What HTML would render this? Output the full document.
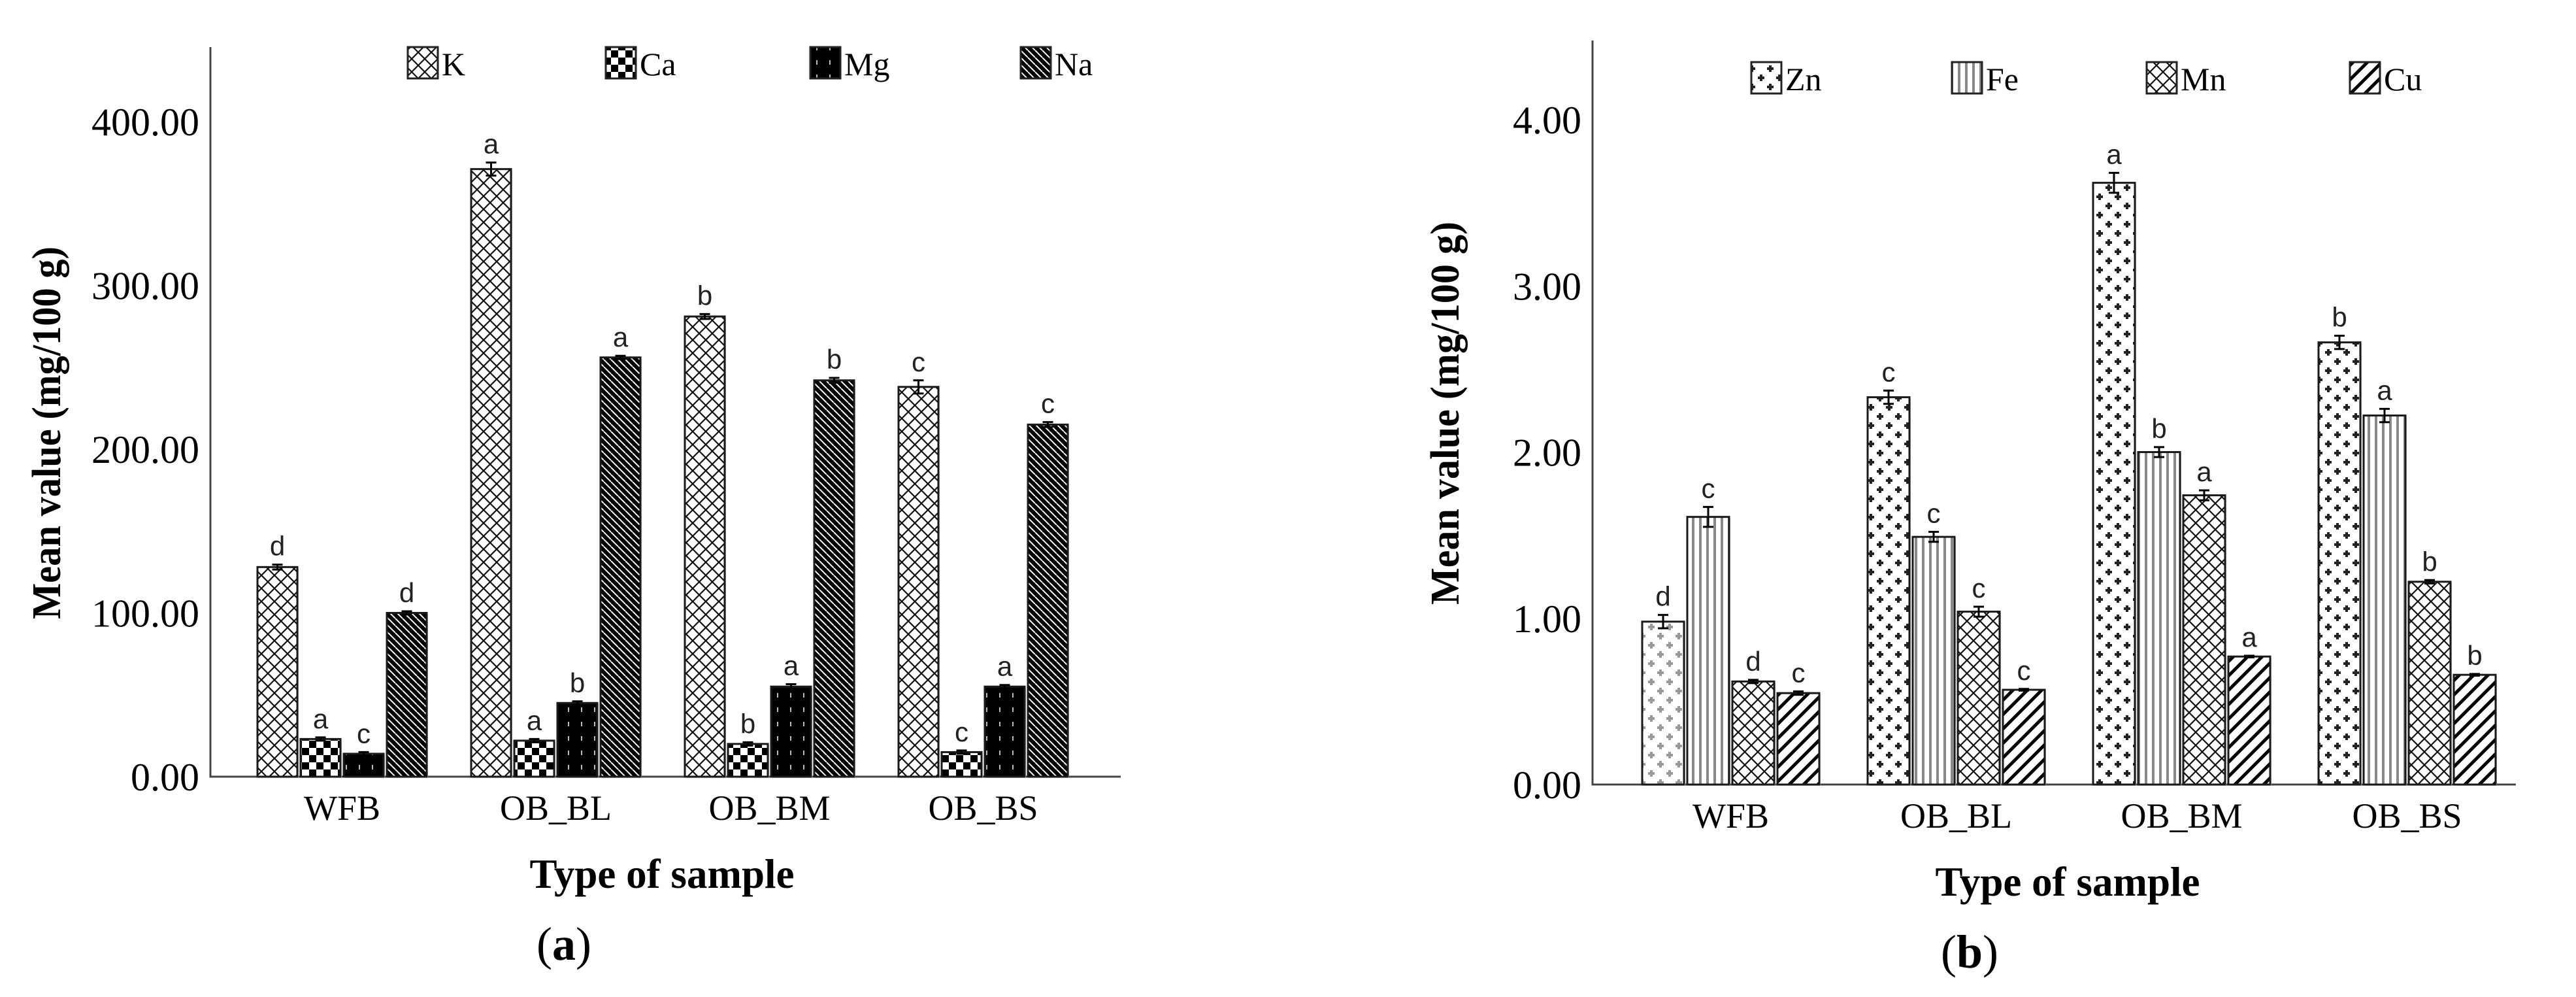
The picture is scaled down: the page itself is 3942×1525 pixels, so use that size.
<!DOCTYPE html>
<html><head><meta charset="utf-8">
<style>
html,body{margin:0;padding:0;background:#fff;}
svg{display:block;}
</style></head>
<body>
<svg id="fig" width="3942" height="1525" viewBox="0 0 3942 1525" xmlns="http://www.w3.org/2000/svg">
<defs>
  <pattern id="pK" width="20" height="20" patternUnits="userSpaceOnUse">
    <rect width="20" height="20" fill="#fff"/>
    <path d="M0,0L20,20M20,0L0,20" stroke="#111" stroke-width="2.2"/>
  </pattern>
  <pattern id="pCa" width="22" height="22" patternUnits="userSpaceOnUse">
    <rect width="22" height="22" fill="#fff"/>
    <rect width="11" height="11" fill="#000"/><rect x="11" y="11" width="11" height="11" fill="#000"/>
  </pattern>
  <pattern id="pMg" width="20" height="22" patternUnits="userSpaceOnUse">
    <rect width="20" height="22" fill="#000"/>
    <rect x="9" y="4" width="2" height="7" fill="#bbb"/>
  </pattern>
  <pattern id="pNa" width="11" height="11" patternUnits="userSpaceOnUse">
    <rect width="11" height="11" fill="#000"/>
    <path d="M0,0L11,11M-11,0L0,11M11,0L22,11" stroke="#fff" stroke-width="2"/>
  </pattern>
  <pattern id="pZn" width="28" height="28" patternUnits="userSpaceOnUse">
    <rect width="28" height="28" fill="#fff"/>
    <path d="M7,2v10M2,7h10M21,16v10M16,21h10" stroke="#222" stroke-width="4"/>
  </pattern>
  <pattern id="pZnL" width="28" height="28" patternUnits="userSpaceOnUse">
    <rect width="28" height="28" fill="#fff"/>
    <path d="M7,2v10M2,7h10M21,16v10M16,21h10" stroke="#999" stroke-width="4"/>
  </pattern>
  <pattern id="pFe" width="11" height="11" patternUnits="userSpaceOnUse">
    <rect width="11" height="11" fill="#fff"/>
    <rect x="4" width="4" height="11" fill="#888"/>
  </pattern>
  <pattern id="pCu" width="22" height="22" patternUnits="userSpaceOnUse">
    <rect width="22" height="22" fill="#fff"/>
    <path d="M0,22L22,0M-11,11L11,-11M11,33L33,11" stroke="#000" stroke-width="5"/>
  </pattern>
</defs>
<g id="chartA"></g>
<g id="chartB"></g>
</svg>
<script>
const categories = ["WFB","OB_BL","OB_BM","OB_BS"];
const seriesA = ["K","Ca","Mg","Na"];
const valK  = [128, 371, 281, 238];
const valCa = [23, 22, 20, 15];
const valMg = [14, 45, 55, 55];
const valNa = [100, 256, 242, 215];
const errK  = [1.5, 4, 1.5, 4];
const errCa = [1, 1, 1, 1];
const errMg = [1, 1, 1.5, 1];
const errNa = [1, 1, 1.5, 1.5];
const letK  = ["d","a","b","c"];
const letCa = ["a","a","b","c"];
const letMg = ["c","b","a","a"];
const letNa = ["d","a","b","c"];
const ticksA = ["0.00","100.00","200.00","300.00","400.00"];
const tickValsA = [0,100,200,300,400];

const seriesB = ["Zn","Fe","Mn","Cu"];
const valZn = [0.98, 2.33, 3.62, 2.66];
const valFe = [1.61, 1.49, 2.00, 2.22];
const valMn = [0.62, 1.04, 1.74, 1.22];
const valCu = [0.55, 0.57, 0.77, 0.66];
const errZn = [0.04, 0.04, 0.06, 0.04];
const errFe = [0.06, 0.03, 0.03, 0.04];
const errMn = [0.01, 0.03, 0.03, 0.01];
const errCu = [0.01, 0.005, 0.005, 0.005];
const letZn = ["d","c","a","b"];
const letFe = ["c","c","b","a"];
const letMn = ["d","c","a","b"];
const letCu = ["c","c","a","b"];
const ticksB = ["0.00","1.00","2.00","3.00","4.00"];
const tickValsB = [0,1,2,3,4];

const NS="http://www.w3.org/2000/svg";
function mk(parent, tag, attrs){const e=document.createElementNS(NS,tag);for(const k in attrs)e.setAttribute(k,attrs[k]);parent.appendChild(e);return e;}

function drawChart(g, cfg){
  const y = v => cfg.base - v*cfg.scale;
  const x = (ci, si) => cfg.firstX + ci*cfg.pitch + si*cfg.step;
  const ax = mk(g,'path',{d:`M${cfg.axisX},${cfg.axisTop}V${cfg.base}H${cfg.axisRight}`,fill:'none',stroke:'#444','stroke-width':3});
  
  
  cfg.tickVals.forEach((tv,i)=>{
    const t = mk(g,'text',{x:cfg.axisX-17,y:y(tv)+21,'text-anchor':'end','font-family':'Liberation Serif, serif','font-size':60,fill:'#000'});
    t.textContent = cfg.ticks[i];
    
    
  });
  categories.forEach((c,ci)=>{
    const cx = x(ci,0) + (3*cfg.step+cfg.bw)/2;
    const t = mk(g,'text',{x:cx,y:cfg.base+66,'text-anchor':'middle','font-family':'Liberation Serif, serif','font-size':54,fill:'#000'});
    t.textContent = c;
    
    
  });
  cfg.series.forEach((s,si)=>{
    const vals=cfg.vals[si], errs=cfg.errs[si], lets=cfg.lets[si];
    vals.forEach((v,ci)=>{
      const bx=x(ci,si), top=y(v);
      let fill = cfg.pats[si];
      if (cfg.special && cfg.special(si,ci)) fill = cfg.special(si,ci);
      const sh = mk(g,'rect',{x:bx+2,y:top+2,width:cfg.bw,height:cfg.base-top,fill:'#ccc'});
      
      
      const r = mk(g,'rect',{x:bx,y:top,width:cfg.bw,height:cfg.base-top,fill:`url(#${fill})`,stroke:'#1a1a1a','stroke-width':3});
      
      
      const ep=errs[ci]*cfg.scale, mx=bx+cfg.bw/2;
      const e = mk(g,'path',{d:`M${mx},${top-ep}V${top+ep}M${mx-8},${top-ep}H${mx+8}M${mx-8},${top+ep}H${mx+8}`,stroke:'#000','stroke-width':3,fill:'none'});
      
      
      const l = mk(g,'text',{x:mx,y:top-ep-14,'text-anchor':'middle','font-family':'Liberation Sans, sans-serif','font-size':42,fill:'#222'});
      l.textContent = lets[ci];
      
      
    });
    const lx=cfg.legX[si];
    const lr = mk(g,'rect',{x:lx,y:cfg.legY,width:46,height:48,fill:`url(#${cfg.pats[si]})`,stroke:'#222','stroke-width':3});
    
    
    const lt = mk(g,'text',{x:lx+52,y:cfg.legY+43,'font-family':'Liberation Serif, serif','font-size':50,fill:'#000'});
    lt.textContent = s;
    
    
  });
  const yt = mk(g,'text',{x:0,y:0,'text-anchor':'middle','font-family':'Liberation Serif, serif','font-size':62,'font-weight':'bold',fill:'#000',transform:`translate(${cfg.ytX},${cfg.ytY}) rotate(-90)`,textLength:cfg.ytLen,lengthAdjust:'spacingAndGlyphs'});
  yt.textContent='Mean value (mg/100 g)';
  
  
  const xt = mk(g,'text',{x:cfg.xtX,y:cfg.xtY,'text-anchor':'middle','font-family':'Liberation Serif, serif','font-size':64,'font-weight':'bold',fill:'#000',textLength:405,lengthAdjust:'spacingAndGlyphs'});
  xt.textContent='Type of sample';
  
  
  const pl = mk(g,'text',{x:cfg.xtX-150,y:cfg.xtY+110,'text-anchor':'middle','font-family':'Liberation Serif, serif','font-size':72,fill:'#000'});
  pl.innerHTML = '(<tspan font-weight="bold">'+cfg.panel+'</tspan>)';
  
  
}

drawChart(document.getElementById('chartA'),{
  base:1188, scale:2.505, axisX:322, axisTop:72, axisRight:1715,
  firstX:394, pitch:327, step:66, bw:61,
  ticks:ticksA, tickVals:tickValsA, series:seriesA,
  vals:[valK,valCa,valMg,valNa], errs:[errK,errCa,errMg,errNa], lets:[letK,letCa,letMg,letNa],
  pats:['pK','pCa','pMg','pNa'], legX:[624,927,1240,1562], legY:72,
  ytX:92, ytY:662, ytLen:570, xtX:1013, xtY:1358, panel:'a'
});
drawChart(document.getElementById('chartB'),{
  base:1200, scale:254.25, axisX:2437, axisTop:62, axisRight:3850,
  firstX:2513, pitch:345, step:69, bw:64,
  ticks:ticksB, tickVals:tickValsB, series:seriesB,
  vals:[valZn,valFe,valMn,valCu], errs:[errZn,errFe,errMn,errCu], lets:[letZn,letFe,letMn,letCu],
  pats:['pZn','pFe','pK','pCu'], legX:[2680,2987,3285,3596], legY:95,
  special:(si,ci)=> (si===0&&ci===0)?'pZnL':null,
  ytX:2232, ytY:632, ytLen:586, xtX:3164, xtY:1370, panel:'b'
});
</script>
</body></html>
